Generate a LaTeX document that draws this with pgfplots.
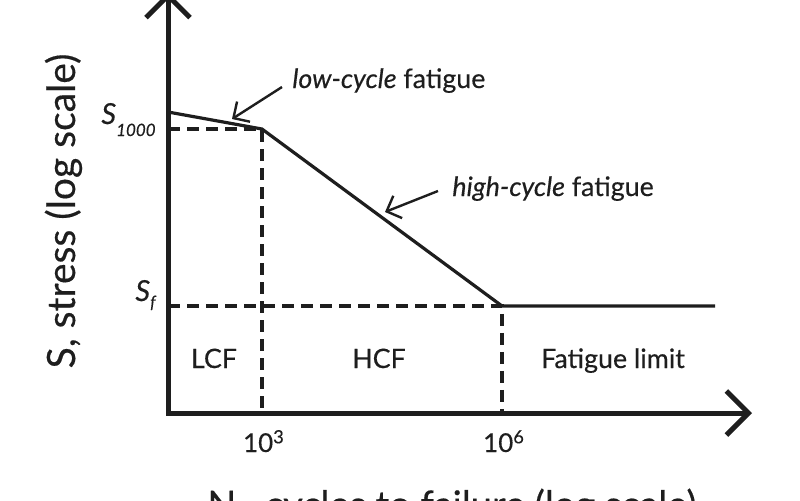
\documentclass[border=0pt]{standalone}
\usepackage{fontspec}
\setmainfont{Lato}[FakeBold=0.35]
\usepackage{pgfplots}
\pgfplotsset{compat=1.18}
\usetikzlibrary{arrows.meta}
\definecolor{ink}{HTML}{1E1E1E}
\newcommand\Sk{{\fontsize{14.5}{15}\selectfont\itshape S}\raisebox{-6pt}{\fontsize{8.5}{9}\selectfont\itshape 1000}}
\newcommand\Sf{{\fontsize{14.5}{15}\selectfont\itshape S}\raisebox{-3.5pt}{\fontsize{8.5}{9}\selectfont\itshape f}}
\begin{document}
\begin{tikzpicture}
\path[use as bounding box, clip] (0,0) rectangle (400pt,-250pt);
\begin{axis}[
  at={(84pt,-206.5pt)}, anchor=south west,
  scale only axis, width=292pt, height=210.5pt,
  xmode=log, xmin=67, xmax=1.33e9, ymin=0, ymax=421,
  axis lines=left,
  axis line style={ink, line width=2.5pt, line cap=rect, -{Straight Barb[length=11pt,width=22pt,line width=2.5pt]}},
  xtick={1000,1000000}, xticklabels={10\textsuperscript{3},10\textsuperscript{6}},
  ytick={107,284}, yticklabels={\Sf,\Sk},
  major tick length=0pt, minor tick length=0pt,
  xticklabel style={font=\fontsize{13}{14}\selectfont, text=ink, anchor=base, inner sep=0pt, yshift=-19.5pt, xshift=1pt},
  yticklabel style={text=ink, anchor=base east, inner sep=0pt, xshift=-6pt, yshift=2.5pt},
  clip=false,
]
\addplot[ink, line width=1.6pt, line join=miter] coordinates {(67,301) (1000,284) (1000000,107) (460000000,107)};
\addplot[ink, line width=1.7pt, dash pattern=on 6pt off 3.5pt] coordinates {(67,284) (1000,284) (1000,0)};
\addplot[ink, line width=1.7pt, dash pattern=on 6pt off 3.5pt] coordinates {(67,107) (1000000,107) (1000000,0)};
\end{axis}
\begin{scope}[x=0.5pt, y=-0.5pt, text=ink, every node/.style={inner sep=0pt}]
\node[rotate=90, anchor=base, font=\fontsize{19.5}{21}\selectfont] at (75,211) {S, stress (log scale)};
\node[anchor=base west, font=\fontsize{19}{21}\selectfont] at (207,518) {N\textsubscript{f}, cycles to failure (log scale)};
\node[anchor=base west, font=\fontsize{13.4}{15}\selectfont] at (292,88) {\textit{low-cycle} fatigue};
\node[anchor=base west, font=\fontsize{13.4}{15}\selectfont] at (452,196) {\textit{high-cycle} fatigue};
\node[anchor=base, font=\fontsize{13.4}{15}\selectfont] at (214,368) {LCF};
\node[anchor=base, font=\fontsize{13.4}{15}\selectfont] at (379,368) {HCF};
\node[anchor=base, font=\fontsize{13.4}{15}\selectfont] at (613,368) {Fatigue limit};
\draw[ink, line width=1.2pt, -{Straight Barb[length=6pt,width=12pt]}] (282,87) -- (232,119);
\draw[ink, line width=1.2pt, -{Straight Barb[length=6pt,width=12pt]}] (438,191) -- (385,212);
\end{scope}
\end{tikzpicture}
\end{document}
